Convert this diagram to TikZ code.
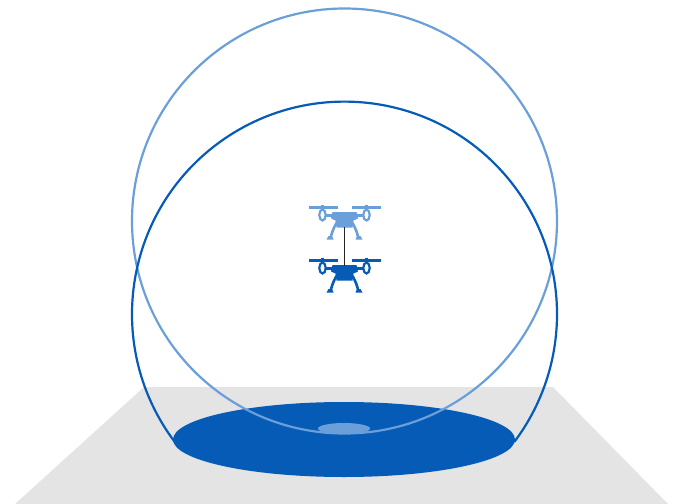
\documentclass[tikz,border=0pt]{standalone}
\definecolor{deep}{HTML}{055BB5}
\definecolor{pale}{HTML}{6B9FD9}
\definecolor{ground}{HTML}{E4E4E4}
\tikzset{
  dronepic/.pic={
    \draw[line width=2.2] (-36,0) -- (-7,0) (7,0) -- (36,0);
    \draw[line width=2.2] (-22,-3) -- (-22,3) (22,-3) -- (22,3);
    \draw[line width=2.2] (-22,7.5) ellipse (3.2 and 5.5);
    \draw[line width=2.2] (22,7.5) ellipse (3.2 and 5.5);
    \draw[line width=2.2] (-19,8) -- (-11,8) (19,8) -- (11,8);
    \fill (-12,4.5) -- (12,4.5) -- (13.5,11) -- (9,13) -- (8,20) -- (-8,20) -- (-9,13) -- (-13.5,11) -- cycle;
    \draw[line width=2.6] (-7,14) .. controls (-9,17) and (-12,22) .. (-14,31);
    \draw[line width=2.6] (7,14) .. controls (9,17) and (12,22) .. (14,31);
    \fill (-18,32) -- (-16,28.5) -- (-12.5,28.5) -- (-11,32) -- cycle;
    \fill (18,32) -- (16,28.5) -- (12.5,28.5) -- (11,32) -- cycle;
  },
  ring/.style={line width=2.2},
  tether/.style={line width=1.4,draw=black!85}
}
\begin{document}
\begin{tikzpicture}[x=1pt,y=-1pt]
\useasboundingbox (0,0) rectangle (681,504);
\fill[ground] (144,387) -- (553,387) -- (668,504) -- (15,504) -- cycle;
\fill[deep] (344,439.5) ellipse (171 and 37.5);
\fill[pale] (344,428.5) ellipse (26 and 5.5);
\draw[ring,draw=pale] (344.5,221) circle (212.5);
\draw[ring,draw=deep] (174.8,442) arc[start angle=143,end angle=397,radius=212.5];
\begin{scope}[color=pale]
\pic at (344.5,207.5) {dronepic};
\end{scope}
\begin{scope}[color=deep]
\pic at (344.5,260.5) {dronepic};
\end{scope}
\coordinate (upperbelly) at (344.5,227);
\coordinate (lowerbelly) at (344.5,266);
\draw[tether] (upperbelly) -- (lowerbelly);
\end{tikzpicture}
\end{document}
